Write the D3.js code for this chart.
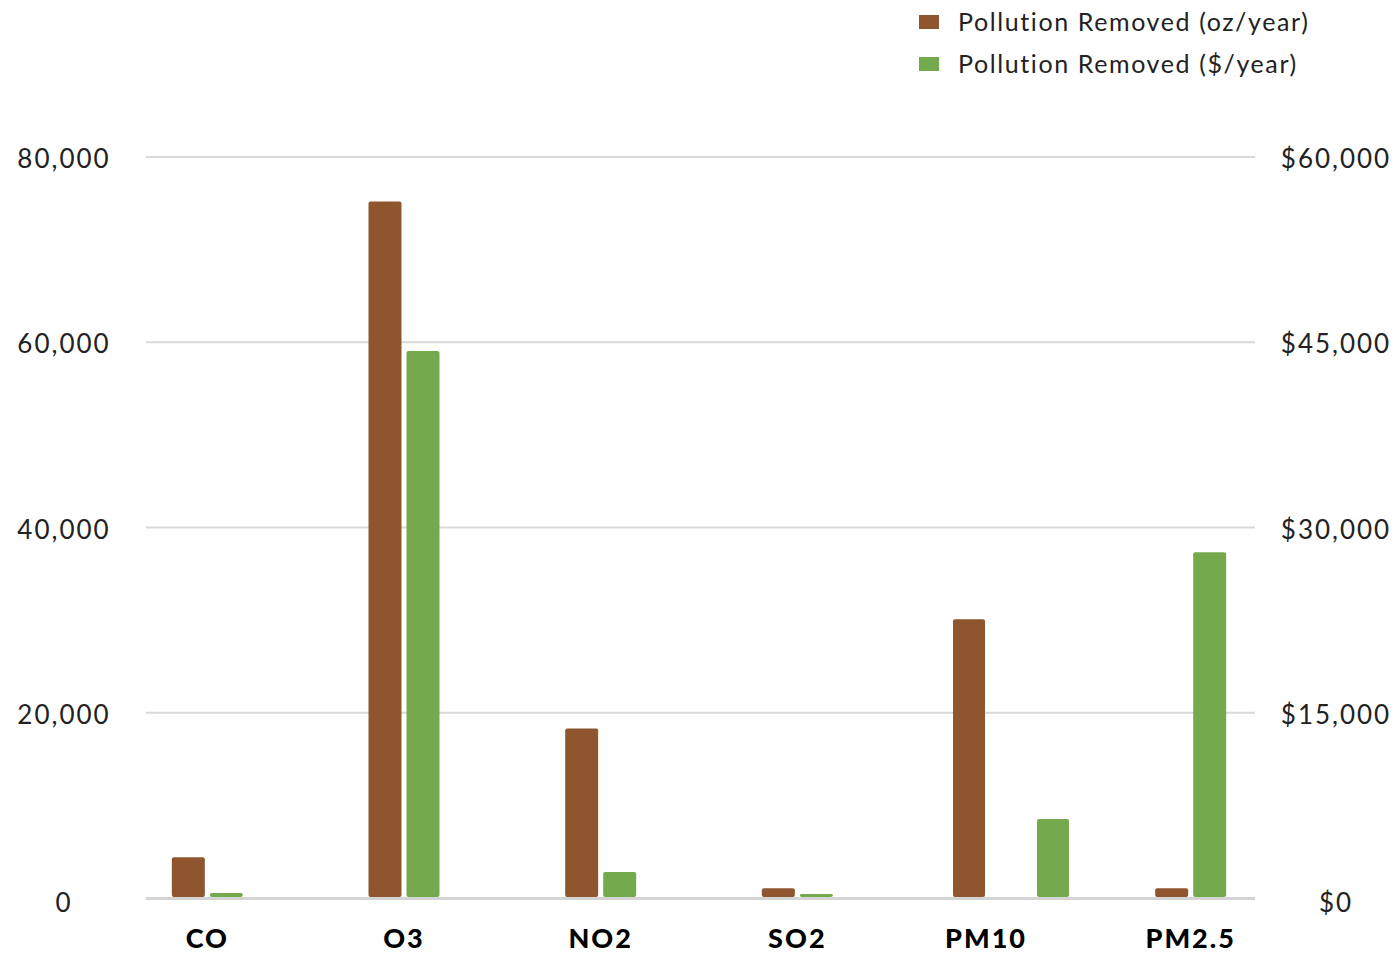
<!DOCTYPE html>
<html><head><meta charset="utf-8">
<script src="https://cdn.jsdelivr.net/npm/d3@7"></script>
<style>
html,body{margin:0;padding:0;background:#fff;}
svg text{font-family:Lato, "Open Sans", sans-serif;}
</style></head>
<body><svg id="chart" width="1396" height="953"></svg>
<script>
const categories = ["CO", "O3", "NO2", "SO2", "PM10", "PM2.5"];
const seriesNames = ["Pollution Removed (oz/year)", "Pollution Removed ($/year)"];
const ozValues = [4400, 75200, 18300, 1050, 30100, 1050];
const dollarValues = [400, 44300, 2100, 320, 6400, 28000];
const leftTicks = [0, 20000, 40000, 60000, 80000];
const rightTicks = [0, 15000, 30000, 45000, 60000];
const colors = ["#8F552E", "#74AA4D"];

const svg = d3.select("#chart");
const plotTop = 157, plotBottom = 898, gridLeft = 146, gridRight = 1255;

const yL = d3.scaleLinear().domain([0, 80000]).range([plotBottom, plotTop]);
const yR = d3.scaleLinear().domain([0, 60000]).range([plotBottom, plotTop]);
const x0 = d3.scaleBand().domain(categories).range([109, 1289]).padding(0);

// inner grouping scales (the reference spreads the PM10 pair wider)
const x1 = d3.scaleBand().domain([0, 1]).range([-35.5, 35.5]).paddingInner(0.132).paddingOuter(0);
const x1Wide = d3.scaleBand().domain([0, 1]).range([-41, 75]).paddingInner(0.619).paddingOuter(0);
const inner = c => c === "PM10" ? x1Wide : x1;

// grid lines
svg.append("g").selectAll("line").data(leftTicks.filter(t => t > 0)).join("line")
  .attr("x1", gridLeft).attr("x2", gridRight)
  .attr("y1", d => yL(d)).attr("y2", d => yL(d))
  .attr("stroke", "#d9d9d9").attr("stroke-width", 2);

// left axis labels
const fmt = d3.format(",");
svg.append("g").selectAll("text").data(leftTicks).join("text")
  .attr("x", 64).attr("y", d => yL(d) + (d === 0 ? 4 : 1))
  .attr("text-anchor", "middle").attr("dominant-baseline", "central")
  .attr("font-size", 26).attr("letter-spacing", 2).attr("fill", "#222")
  .text(d => fmt(d));

// right axis labels
svg.append("g").selectAll("text").data(rightTicks).join("text")
  .attr("x", 1336).attr("y", d => yR(d) + (d === 0 ? 4 : 1))
  .attr("text-anchor", "middle").attr("dominant-baseline", "central")
  .attr("font-size", 26).attr("letter-spacing", 2).attr("fill", "#222")
  .text(d => "$" + fmt(d));

// bars
const rows = categories.map((c, i) => ({c, oz: ozValues[i], usd: dollarValues[i]}));
const g = svg.append("g");
g.selectAll("rect.oz").data(rows).join("rect").attr("class", "oz")
  .attr("x", d => x0(d.c) + x0.bandwidth() / 2 + inner(d.c)(0))
  .attr("width", d => inner(d.c).bandwidth())
  .attr("y", d => yL(d.oz)).attr("height", d => plotBottom - 1 - yL(d.oz))
  .attr("rx", 2).attr("fill", colors[0]);
g.selectAll("rect.usd").data(rows).join("rect").attr("class", "usd")
  .attr("x", d => x0(d.c) + x0.bandwidth() / 2 + inner(d.c)(1))
  .attr("width", d => inner(d.c).bandwidth())
  .attr("y", d => yR(d.usd)).attr("height", d => Math.max(2, plotBottom - 1 - yR(d.usd)))
  .attr("rx", 2).attr("fill", colors[1]);

// baseline
svg.append("line").attr("x1", gridLeft).attr("x2", gridRight)
  .attr("y1", plotBottom + 0.5).attr("y2", plotBottom + 0.5)
  .attr("stroke", "#d4d4d4").attr("stroke-width", 3);

// category labels
svg.append("g").selectAll("text").data(categories).join("text")
  .attr("x", d => x0(d) + x0.bandwidth() / 2 + (d === "PM10" ? -8 : 0))
  .attr("y", 948)
  .attr("text-anchor", "middle")
  .attr("font-size", 27).attr("font-weight", 900).attr("letter-spacing", 2).attr("fill", "#000")
  .text(d => d);

// legend
const leg = svg.append("g").selectAll("g").data(seriesNames).join("g")
  .attr("transform", (d, i) => `translate(919,${15 + i * 42})`);
leg.append("rect").attr("width", 20).attr("height", 14).attr("fill", (d, i) => colors[i]);
leg.append("text").attr("x", 39).attr("y", 16).attr("font-size", 25).attr("letter-spacing", 1.6).attr("fill", "#222").text(d => d);
</script>
</body></html>
